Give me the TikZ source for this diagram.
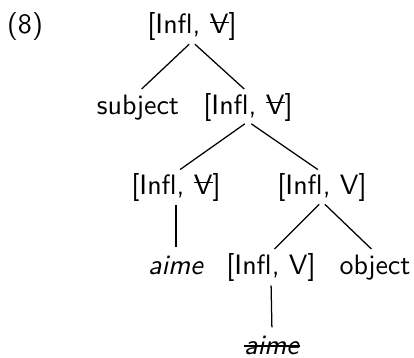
\documentclass[tikz,border=0pt]{standalone}
\usepackage{fontspec}
\renewcommand\familydefault{\sfdefault}
\newsavebox\strkbox
\newcommand\strikeit[2]{\sbox\strkbox{#2}\usebox\strkbox\llap{\rule[#1]{\wd\strkbox}{0.45pt}}}
\begin{document}
\begin{tikzpicture}[x=0.357pt,y=-0.357pt,
  lbl/.style={anchor=base,inner sep=0pt,text height=0.75em,text depth=0.25em,font=\sffamily},
  branch/.style={line width=0.45pt,shorten <=1.4pt,shorten >=1.8pt}]
\useasboundingbox (0,0) rectangle (414,357);
\node[lbl] (ex) at (25,34) {(8)};
\node[lbl] (n1) at (192,34) {[Infl, \strikeit{4pt}{V}]};
\node[lbl] (subj) at (138,114) {subject};
\node[lbl] (n2) at (248,114) {[Infl, \strikeit{4pt}{V}]};
\node[lbl] (n3) at (176,194) {[Infl, \strikeit{4pt}{V}]};
\node[lbl] (n4) at (322,194) {[Infl, V]};
\node[lbl] (aime1) at (176,274) {\textit{aime}};
\node[lbl] (n5) at (271,274) {[Infl, V]};
\node[lbl] (obj) at (375,274) {object};
\node[lbl] (aime2) at (272,354) {\strikeit{2.6pt}{\textit{aime}}};
\draw[branch] (n1.south) -- (subj.north);
\draw[branch] (n1.south) -- (n2.north);
\draw[branch] (n2.south) -- (n3.north);
\draw[branch] (n2.south) -- (n4.north);
\draw[branch] (n3.south) -- (aime1.north);
\draw[branch] (n4.south) -- (n5.north);
\draw[branch] (n4.south) -- (obj.north);
\draw[branch] (n5.south) -- (aime2.north);
\end{tikzpicture}
\end{document}
